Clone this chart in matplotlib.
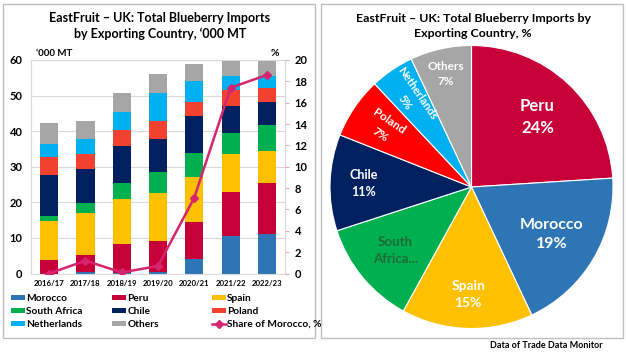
import matplotlib
matplotlib.use("Agg")
import matplotlib.pyplot as plt
from matplotlib.patches import Rectangle
import numpy as np

plt.rcParams['font.family'] = ['Lato', 'DejaVu Sans']
plt.rcParams['font.weight'] = 'bold'

seasons = ['2016/17', '2017/18', '2018/19', '2019/20', '2020/21', '2021/22', '2022/23']
countries = ['Morocco', 'Peru', 'Spain', 'South Africa', 'Chile', 'Poland', 'Netherlands', 'Others']

# '000 MT per season
morocco = [0.0, 0.5, 0.05, 0.4, 4.2, 10.5, 11.2]
peru = [3.7, 4.8, 8.2, 8.7, 10.4, 12.4, 14.2]
spain = [11.0, 11.6, 12.6, 13.6, 12.6, 10.7, 9.0]
south_africa = [1.5, 2.8, 4.5, 5.7, 6.8, 5.9, 7.4]
chile = [11.5, 9.6, 10.6, 9.5, 10.4, 7.6, 6.3]
poland = [4.9, 4.3, 4.4, 5.0, 3.7, 4.5, 4.0]
netherlands = [3.8, 4.3, 5.1, 7.8, 6.0, 3.9, 3.4]
others = [6.0, 5.0, 5.2, 5.4, 4.9, 4.2, 4.2]
share_morocco = [0.0, 1.2, 0.1, 0.7, 7.1, 17.4, 18.6]

# pie, %
pie_labels = ['Peru', 'Morocco', 'Spain', 'South\nAfrica...', 'Chile', 'Poland', 'Netherlands', 'Others']
pie_values = [24, 19, 15, 12, 11, 7, 5, 7]

bar_colors = ['#2E75B6', '#C8003A', '#FFC000', '#00B050', '#002060', '#F2412F', '#00B0F0', '#A6A6A6']
pie_colors = ['#C8003A', '#2E75B6', '#FFC000', '#00B050', '#002060', '#FF0000', '#00B0F0', '#A6A6A6']
line_color = '#D6246E'

fig = plt.figure(figsize=(6.26, 3.54), dpi=100)

# panel frames
for x0, x1 in [(3, 315), (321, 623)]:
    fig.patches.append(Rectangle((x0 / 626, (354 - 338) / 354), (x1 - x0) / 626, (338 - 4) / 354,
                                 transform=fig.transFigure, fill=False, edgecolor='#BFBFBF', lw=1))

# ---- left: stacked bars ----
ax = fig.add_axes([31 / 626, (354 - 273.5) / 354, 254 / 626, 213.5 / 354])
x = np.arange(len(seasons))
series = [morocco, peru, spain, south_africa, chile, poland, netherlands, others]
bottom = np.zeros(len(seasons))
handles = []
for name, vals, c in zip(countries, series, bar_colors):
    b = ax.bar(x, vals, 0.5, bottom=bottom, color=c, label=name, zorder=2)
    handles.append(b)
    bottom += np.array(vals)
ax.set_xlim(-0.5, 6.5)
ax.set_ylim(0, 60)
ax.set_yticks(range(0, 61, 10))
ax.set_xticks(x)
ax.set_xticklabels(seasons, fontsize=5.6)
ax.tick_params(axis='y', labelsize=8, length=0, pad=6)
ax.tick_params(axis='x', length=0, pad=5)
ax.yaxis.grid(True, color='#D9D9D9', lw=0.8, zorder=0)
for s in ax.spines.values():
    s.set_color('#D9D9D9')

ax2 = ax.twinx()
ln, = ax2.plot(x, share_morocco, color=line_color, lw=1.8, marker='D', ms=4, label='Share of Morocco, %', zorder=3)
ax2.set_ylim(0, 20)
ax2.set_yticks(range(0, 21, 2))
ax2.tick_params(axis='y', labelsize=8, length=3, color='#F4A6C0', pad=4)
for s in ax2.spines.values():
    s.set_visible(False)

fig.text(160 / 626, 1 - 26 / 354, 'EastFruit – UK: Total Blueberry Imports\nby Exporting Country, ‘000 MT',
         ha='center', va='center', fontsize=9, linespacing=1.35)
fig.text(36 / 626, 1 - 53 / 354, '‘000 MT', ha='left', va='center', fontsize=7)
fig.text(275 / 626, 1 - 53 / 354, '%', ha='center', va='center', fontsize=7.5)

# legends: three single columns
cols = [[0, 3, 6], [1, 4, 7], [2, 5, 8]]
all_handles = handles + [ln]
all_labels = countries + ['Share of Morocco, %']
col_x = [11, 112, 212]
for cx, idx in zip(col_x, cols):
    fig.legend([all_handles[i] for i in idx], [all_labels[i] for i in idx],
               loc='upper left', bbox_to_anchor=(cx / 626, 1 - 294 / 354), frameon=False,
               fontsize=7.3, handlelength=1.4, handleheight=0.5, handletextpad=0.1,
               labelspacing=0.4, borderaxespad=0, borderpad=0)

# ---- right: pie ----
pax = fig.add_axes([(471.5 - 141.5) / 626, (354 - 187 - 141.5) / 354, 283 / 626, 283 / 354])
wedges, _ = pax.pie(pie_values, colors=pie_colors, startangle=90, counterclock=False,
                    wedgeprops=dict(edgecolor='white', linewidth=0.8))
pax.set_xlim(-1, 1)
pax.set_ylim(-1, 1)
pax.set_aspect('equal')

label_r = [0.68, 0.66, 0.76, 0.70, 0.76, 0.74, 0.76, 0.82]
label_fs = [12, 11.5, 10, 9.5, 9, 8.5, 8, 8.5]
rotate = [False, False, False, False, False, True, True, False]
for w, name, v, r, fs, rot in zip(wedges, pie_labels, pie_values, label_r, label_fs, rotate):
    mid = np.deg2rad((w.theta1 + w.theta2) / 2)
    txt = name if name.startswith('South') else f'{name}\n{v}%'
    color = '#1E6B35' if name.startswith('South') else 'white'
    angle = np.rad2deg(mid) - 180 if rot else 0
    pax.text(r * np.cos(mid), r * np.sin(mid), txt, ha='center', va='center', fontsize=fs,
             color=color, rotation=angle, rotation_mode='anchor', linespacing=1.5)

fig.text(473 / 626, 1 - 26 / 354, 'EastFruit – UK: Total Blueberry Imports by\nExporting Country, %',
         ha='center', va='center', fontsize=8.9, linespacing=1.35)
fig.text(603 / 626, 1 - 346 / 354, 'Data of Trade Data Monitor', ha='right', va='center', fontsize=6.5)

fig.savefig('out.png', dpi=100)
